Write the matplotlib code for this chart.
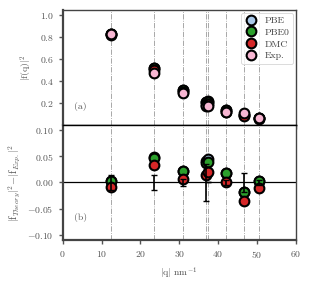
import numpy as np
import matplotlib
matplotlib.use('Agg')
import matplotlib.pyplot as plt

# scattering vectors (nm^-1)
q = [12.4, 23.5, 31.0, 36.9, 37.3, 42.0, 46.8, 50.5]

# experimental |f(q)|^2
f_exp = [0.83, 0.47, 0.295, 0.170, 0.172, 0.115, 0.113, 0.062]
err_exp = [0.015, 0.015, 0.006, 0.036, 0.0, 0.004, 0.018, 0.004]

# differences |f_theory|^2 - |f_exp|^2
d_pbe = [0.003, 0.048, 0.022, 0.042, 0.045, 0.019, -0.018, 0.003]
d_pbe0 = [0.002, 0.047, 0.021, 0.037, 0.040, 0.018, -0.019, 0.002]
d_dmc = [-0.008, 0.033, 0.006, 0.014, 0.020, 0.000, -0.035, -0.011]

labels = ['PBE', 'PBE0', 'DMC', 'Exp.']
colors = ['#a9c8e8', '#2ca02c', '#d62728', '#f7b6d2']

plt.rcParams['font.family'] = 'serif'
plt.rcParams['font.serif'] = ['cmr10', 'DejaVu Serif']
plt.rcParams['mathtext.fontset'] = 'cm'
plt.rcParams['axes.formatter.use_mathtext'] = True

fig = plt.figure(figsize=(3.11, 2.84), dpi=100)
ax1 = fig.add_axes([0.2016, 0.56, 0.7494, 0.405])
ax2 = fig.add_axes([0.2016, 0.155, 0.7494, 0.405], sharex=ax1)

q = np.array(q)
f_exp = np.array(f_exp)
series = [f_exp + np.array(d_pbe), f_exp + np.array(d_pbe0),
          f_exp + np.array(d_dmc), f_exp]
diffs = [d_pbe, d_pbe0, d_dmc]

mk = dict(marker='o', linestyle='none', markersize=7,
          markeredgecolor='black', markeredgewidth=1.5)

for ax in (ax1, ax2):
    for x in q:
        ax.axvline(x, color='gray', linestyle='-.', linewidth=0.6, alpha=0.8, zorder=0)

for vals, c, lab in zip(series, colors, labels):
    ax1.plot(q, vals, color=c, label=lab, **mk)

ax2.axhline(0, color='black', linewidth=0.9, zorder=1)
for vals, c in zip(diffs, colors[:3]):
    ax2.plot(q, vals, color=c, zorder=3, **mk)
ax2.errorbar(q, np.zeros_like(q), yerr=err_exp, fmt='none', ecolor='black',
             elinewidth=1.2, capsize=2.5, capthick=1.0, zorder=4)

ax1.set_ylim(0, 1.05)
ax1.set_yticks([0.2, 0.4, 0.6, 0.8, 1.0])
ax2.set_ylim(-0.11, 0.11)
ax2.set_yticks([-0.10, -0.05, 0.00, 0.05, 0.10])
ax2.set_xlim(0, 60)
ax2.set_xticks(range(0, 61, 10))
plt.setp(ax1.get_xticklabels(), visible=False)
ax1.tick_params(axis='x', length=0)

ax1.set_ylabel(r'$|\mathrm{f(q)}|^2$', fontsize=7, color='#555555')
ax2.set_ylabel(r'$|\mathrm{f}_{Theory}|^2\!-\!|\mathrm{f}_{Exp.}|^2$', fontsize=7.5, color='#555555')
ax2.set_xlabel(r'$|\mathrm{q}|\ \mathrm{nm}^{-1}$', fontsize=7, color='#555555')

for ax in (ax1, ax2):
    ax.tick_params(labelsize=7, colors='#555555', length=3, width=1)
    for s in ax.spines.values():
        s.set_color('#444444')
        s.set_linewidth(1.0)
    ax.spines['left'].set_linewidth(1.6)
    ax.spines['bottom'].set_linewidth(1.6)
ax1.spines['bottom'].set_color('black')
ax1.spines['bottom'].set_linewidth(1.0)
ax2.spines['top'].set_color('black')

ax1.text(0.05, 0.14, '(a)', transform=ax1.transAxes, fontsize=7, color='#555555')
ax2.text(0.05, 0.17, '(b)', transform=ax2.transAxes, fontsize=7, color='#555555')

leg = ax1.legend(loc='upper right', fontsize=7, handletextpad=0.6,
                 borderpad=0.35, labelspacing=0.3, handlelength=1.5,
                 borderaxespad=0.3)
leg.get_frame().set_edgecolor('#cccccc')
leg.get_frame().set_linewidth(0.6)
for t in leg.get_texts():
    t.set_color('#444444')

fig.savefig('out.png', dpi=100)
